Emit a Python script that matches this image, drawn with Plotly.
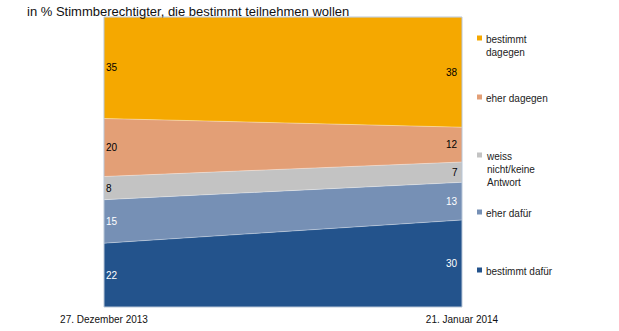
import plotly.graph_objects as go

# Survey dates and shares (in %), bottom to top of the stack
dates = ["27. Dezember 2013", "21. Januar 2014"]
series_names = ["bestimmt dafür", "eher dafür", "weiss<br>nicht/keine<br>Antwort", "eher dagegen", "bestimmt<br>dagegen"]
bestimmt_dafuer = [22, 30]
eher_dafuer = [15, 13]
weiss_nicht = [8, 7]
eher_dagegen = [20, 12]
bestimmt_dagegen = [35, 38]

values = [bestimmt_dafuer, eher_dafuer, weiss_nicht, eher_dagegen, bestimmt_dagegen]
colors = ["#23538C", "#7690B5", "#C3C3C3", "#E39F76", "#F5A800"]
label_colors = ["white", "white", "black", "black", "black"]
legend_y = [270, 212, 155, 97, 38]  # pixel rows of legend entries

W, H = 619, 331
ML, MR, MT, MB = 104, 157, 17, 24
FONT = "Liberation Sans, Arial, sans-serif"

xs = [0, 1]
fig = go.Figure()
for name, vals, col in zip(series_names, values, colors):
    fig.add_trace(go.Scatter(
        x=xs, y=vals, name=name, mode="lines", stackgroup="one",
        line=dict(width=0.6, color="rgba(255,255,255,0.6)"),
        fillcolor=col, hoverinfo="skip", showlegend=False,
    ))

annotations = []
# value labels centred in each band at both ends
for i in range(2):
    base = 0
    for vals, lc in zip(values, label_colors):
        v = vals[i]
        annotations.append(dict(
            x=xs[i], y=base + v / 2, xref="x", yref="y", text=str(v),
            showarrow=False, font=dict(family=FONT, size=10, color=lc),
            xanchor="left" if i == 0 else "right", xshift=0 if i == 0 else -2,
        ))
        base += v

# legend: coloured squares with labels to the right of the plot
shapes = []
plot_h = H - MT - MB
plot_w = W - ML - MR
for name, col, py in zip(series_names, colors, legend_y):
    yp = 1 - (py - MT) / plot_h
    x0 = (477 - ML) / plot_w
    x1 = (482 - ML) / plot_w
    dy = 2.5 / plot_h
    shapes.append(dict(type="rect", xref="paper", yref="paper",
                       x0=x0, x1=x1, y0=yp - dy, y1=yp + dy,
                       fillcolor=col, line=dict(width=0)))
    annotations.append(dict(
        x=(484 - ML) / plot_w, y=yp + 6 / plot_h, xref="paper", yref="paper",
        text=name, showarrow=False, align="left", xanchor="left", yanchor="top",
        font=dict(family=FONT, size=10, color="#222222"),
    ))

# plot frame
shapes.append(dict(type="rect", xref="paper", yref="paper", x0=0, x1=1, y0=0, y1=1,
                   line=dict(color="#B9C7D8", width=1), fillcolor="rgba(0,0,0,0)", layer="above"))

# title
annotations.append(dict(
    x=-(ML - 25) / plot_w, y=1 + (MT - 2) / plot_h, xref="paper", yref="paper",
    text="in % Stimmberechtigter, die bestimmt teilnehmen wollen", showarrow=False,
    xanchor="left", yanchor="top", font=dict(family=FONT, size=13, color="#111111"),
))

fig.update_layout(
    width=W, height=H,
    margin=dict(l=ML, r=MR, t=MT, b=MB, autoexpand=False),
    paper_bgcolor="white", plot_bgcolor="white",
    xaxis=dict(range=[0, 1], tickvals=xs, ticktext=dates, showgrid=False, zeroline=False,
               showline=False, ticks="outside", ticklen=3, tickcolor="white",
               tickfont=dict(family=FONT, size=10, color="#111111"),
               automargin=False, fixedrange=True),
    yaxis=dict(range=[0, 100], showgrid=False, zeroline=False, showticklabels=False,
               showline=False, automargin=False, fixedrange=True),
    annotations=annotations, shapes=shapes,
    showlegend=False,
)

fig.write_html("out.html", config=dict(displayModeBar=False))
